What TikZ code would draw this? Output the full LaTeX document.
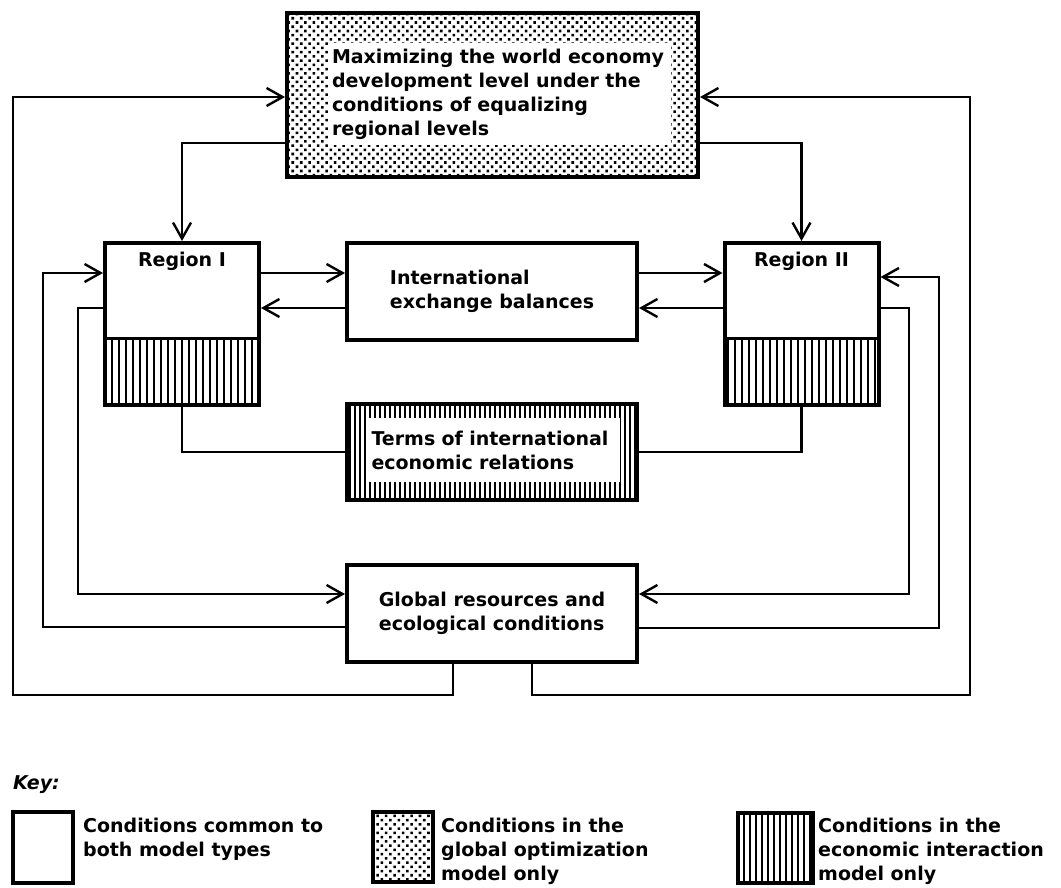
\documentclass[tikz,border=0pt]{standalone}
\usepackage{fontspec}
\setmainfont{DejaVu Sans}
\usetikzlibrary{arrows.meta,patterns.meta}
\newcommand\diagfont{\fontsize{19pt}{24pt}\selectfont\bfseries}
\tikzset{
  box/.style={draw, line width=4pt, inner sep=0pt},
  dotfill/.style={pattern={Dots[distance=6pt, radius=1.8pt, angle=45]}},
  stripefill/.style={pattern={Lines[angle=90, distance=7pt, line width=2.2pt]}},
  finestripes/.style={pattern={Lines[angle=90, distance=5pt, line width=1.8pt]}},
  conn/.style={line width=2.2pt},
  arr/.style={line width=2.2pt, -{Straight Barb[length=16pt, width=18pt, line width=2.4pt]}},
  txt/.style={font=\diagfont, align=left},
  regionbox/.style={box, minimum width=154pt, minimum height=162pt,
    path picture={
      \fill[stripefill] (path picture bounding box.south west)
        rectangle ([yshift=67pt]path picture bounding box.south east);
      \draw[line width=3pt] ([yshift=67pt]path picture bounding box.south west)
        -- ([yshift=67pt]path picture bounding box.south east);
    }},
}
\begin{document}
\begin{tikzpicture}[x=1pt, y=-1pt]
\fill[white] (0,0) rectangle (1061,888);
\useasboundingbox (0,0) rectangle (1061,888);

% objective block
\node[box, dotfill, minimum width=411pt, minimum height=164pt] (top) at (492.5,95) {};
\node[txt, fill=white, text width=336pt, inner xsep=3pt, inner ysep=6pt] (toptext) at (500,94)
  {Maximizing the world economy\\development level under the\\conditions of equalizing\\regional levels};

% regions
\node[regionbox, label={[anchor=north, inner sep=0pt, yshift=-11pt, font=\diagfont]north:Region I}] (r1) at (182,324) {};
\node[regionbox, label={[anchor=north, inner sep=0pt, yshift=-11pt, font=\diagfont]north:Region II}] (r2) at (801.5,324) {};

% exchange balances
\node[box, txt, minimum width=290pt, minimum height=97pt] (intl) at (492,291.5)
  {International\\exchange balances};

% terms of relations
\node[box, finestripes, minimum width=290pt, minimum height=96pt] (terms) at (492,452) {};
\node[txt, fill=white, text width=244pt, inner xsep=4.5pt, inner ysep=13pt] (termstext) at (493.5,450)
  {Terms of international\\economic relations};

% global resources
\node[box, txt, minimum width=290pt, minimum height=97pt] (gl) at (492,613.5)
  {Global resources and\\ecological conditions};

% links to the objective
\draw[arr] (top.west |- 0,143) -| (r1.north);
\draw[arr] (top.east |- 0,143) -| (r2.north);
\draw[arr] (gl.south -| 453,0) |- (13,695) |- (top.west |- 0,97);
\draw[arr] (gl.south -| 532,0) |- (970,695) |- (top.east |- 0,97);

% exchange flows
\draw[arr] (r1.east |- 0,273) -- (intl.west |- 0,273);
\draw[arr] (intl.west |- 0,308) -- (r1.east |- 0,308);
\draw[arr] (intl.east |- 0,273) -- (r2.west |- 0,273);
\draw[arr] (r2.west |- 0,308) -- (intl.east |- 0,308);

% terms
\draw[conn] (r1.south) |- (terms.west |- 0,452);
\draw[conn] (r2.south) |- (terms.east |- 0,452);

% resources
\draw[arr] (gl.west |- 0,627) -| (43,273) -- (r1.west |- 0,273);
\draw[arr] (r1.west |- 0,308) -| (78,594) -- (gl.west |- 0,594);
\draw[arr] (r2.east |- 0,308) -| (909,594) -- (gl.east |- 0,594);
\draw[arr] (gl.east |- 0,628) -| (939,277) -- (r2.east |- 0,277);

% key
\node[anchor=base west, inner sep=0pt, font=\diagfont\itshape] (key) at (13,789) {Key:};
\node[box, minimum width=60pt, minimum height=71pt] (k1) at (43,847.5) {};
\node[txt, anchor=north west, inner sep=0pt] (k1t) at (83,818) {Conditions common to\\both model types};
\node[box, dotfill, minimum width=60pt, minimum height=70pt] (k2) at (403,847) {};
\node[txt, anchor=north west, inner sep=0pt] (k2t) at (441,818) {Conditions in the\\global optimization\\model only};
\node[box, pattern={Lines[angle=90, distance=6pt, line width=2pt]}, minimum width=75pt, minimum height=70pt] (k3) at (775.5,848) {};
\node[txt, anchor=north west, inner sep=0pt] (k3t) at (818,818) {Conditions in the\\economic interaction\\model only};
\end{tikzpicture}
\end{document}
